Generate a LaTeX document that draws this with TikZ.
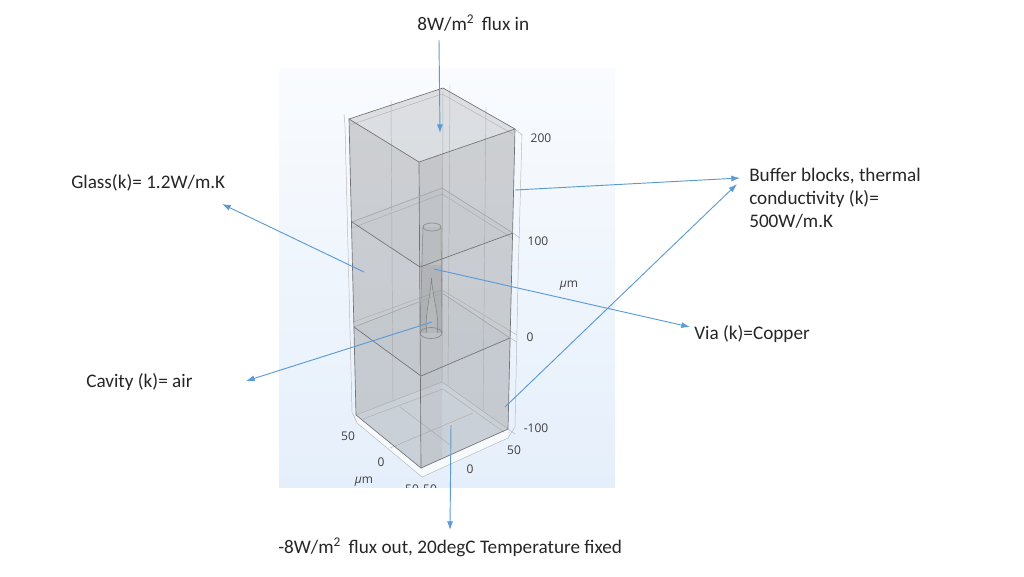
\documentclass[tikz,border=0pt]{standalone}
\usepackage{fontspec}
\setmainfont{Carlito}
\newfontfamily\axisfont{Open Sans}
\usetikzlibrary{arrows.meta}
\definecolor{leader}{HTML}{5B9BD5}
\definecolor{axistext}{HTML}{404040}
\definecolor{paneltop}{HTML}{F9FBFE}
\definecolor{panelbottom}{HTML}{E5EFFB}
\definecolor{wall}{HTML}{868686}
\tikzset{
    face/.style={fill=wall, fill opacity=0.2, draw=none},
    edge/.style={draw=black!55, line width=0.5pt},
    faint/.style={draw=black!28, line width=0.35pt},
    leaderline/.style={draw=leader, line width=0.7pt, -{Latex[length=6.5pt,width=4.5pt]}},
    note/.style={font=\fontsize{14.4}{17.2}\selectfont, text=black!85, inner sep=0pt},
    tick/.style={font=\axisfont\fontsize{9}{10}\selectfont, text=axistext, inner sep=0pt}
}
\begin{document}
\begin{tikzpicture}[x=0.75pt,y=-0.75pt]
    \useasboundingbox (0,0) rectangle (1024,576);
    \shade[top color=paneltop, bottom color=panelbottom] (279,68) rectangle (615,487);

    % axis frame
    \fill[white, opacity=0.7] (357,423) -- (422,477) -- (508,438) -- (508,429) -- (421,468) -- (356,415) -- cycle;
    \draw[faint] (344,114) -- (345,125) -- (352,412) -- (357,423) -- (422,477) -- (508,438);
    \draw[faint] (522,133) -- (518,280) -- (515,427) -- (508,438);
    \draw[faint] (515,129) -- (522,135);
    \draw[faint] (513,233) -- (520,238);
    \draw[faint] (510,338) -- (517,342);
    \draw[faint] (508,429) -- (515,434);

    % back walls and floor
    \path[face] (349,119) -- (443,88) -- (442,382) -- (356,415) -- cycle;
    \path[face] (443,88) -- (515,129) -- (508,429) -- (442,382) -- cycle;
    \path[face, fill opacity=0.12] (356,415) -- (442,382) -- (508,429) -- (421,468) -- cycle;
    \draw[faint] (391,100) -- (393,402);
    \draw[faint] (450,84) -- (448,386);
    \draw[faint] (486,107) -- (483,411);
    \draw[faint] (443,88) -- (442,382);
    \draw[faint] (350,125) -- (442,94) -- (513,134);
    \draw[faint] (352,228) -- (442,194) -- (512,238);
    \draw[faint] (353,322) -- (442,290) -- (517,335);
    \draw[faint] (356,415) -- (442,382) -- (508,429);
    \draw[faint] (363,419) -- (443,389) -- (504,432);
    \draw[faint] (400,407) -- (450,445);
    \draw[faint] (390,448) -- (473,413);

    % via
    \fill[black, opacity=0.03] (423,227) -- (441,227) -- (442,333) -- (420,333) -- cycle;
    \fill[black, opacity=0.08] (421,265) -- (442,265) -- (442,333) -- (421,333) -- cycle;
    \fill[white, opacity=0.2] (427,333) .. controls (424,318) and (430,300) .. (431.5,278) .. controls (433,300) and (440,318) .. (437,333) -- cycle;
    \draw[black!50, line width=0.4pt] (427,333) .. controls (424,318) and (430,300) .. (431.5,278) .. controls (433,300) and (440,318) .. (437,333);
    \draw[black!45, line width=0.4pt] (423,227) -- (420,333);
    \draw[black!45, line width=0.4pt] (441,227) -- (442,333);
    \draw[black!45, line width=0.5pt] (432,227) ellipse (9 and 4);
    \draw[black!45, line width=0.5pt] (431,333) ellipse (11 and 5.5);

    % front of the block
    \path[face] (349,119) -- (419,162) -- (421,468) -- (356,415) -- cycle;
    \path[face] (419,162) -- (515,129) -- (508,429) -- (421,468) -- cycle;
    \path[face, fill opacity=0.1] (419,162) -- (443,153) -- (442,458) -- (421,468) -- cycle;
    \path[face, fill opacity=0.04] (349,119) -- (443,88) -- (515,129) -- (419,162) -- cycle;
    \path[face, fill opacity=0.04] (352,222) -- (442,188) -- (513,233) -- (420,267) -- cycle;
    \path[face, fill opacity=0.03] (354,327) -- (442,293) -- (510,338) -- (421,376) -- cycle;

    \draw[edge] (349,119) -- (443,88) -- (515,129) -- (419,162) -- cycle;
    \draw[edge] (349,119) -- (356,415) -- (421,468) -- (508,429) -- (515,129);
    \draw[edge] (419,162) -- (421,468);
    \draw[edge, draw=black!35] (352,222) -- (442,188) -- (513,233);
    \draw[edge] (352,222) -- (420,267) -- (513,233);
    \draw[edge, draw=black!35] (354,327) -- (442,293) -- (510,338);
    \draw[edge] (354,327) -- (421,376) -- (510,338);

    % axis numbers
    \begin{scope}
        \clip (279,68) rectangle (615,487);
        \node[tick] (z200) at (541,138) {200};
        \node[tick] (z100) at (538,241) {100};
        \node[tick] (zunit) at (569,286) {\textit{μ}m};
        \node[tick] (z0) at (530,337) {0};
        \node[tick] (zm100) at (536,428) {-100};
        \node[tick] (y50) at (348,436) {50};
        \node[tick] (y0) at (381,462) {0};
        \node[tick] (yunit) at (364,482) {\textit{μ}m};
        \node[tick] (ym50) at (412,489) {50};
        \node[tick] (xm50) at (430,489) {50};
        \node[tick] (x0) at (470,469) {0};
        \node[tick] (x50) at (514,450) {50};
    \end{scope}

    % labels
    \node[note, anchor=west] (fluxIn) at (417,23) {8W/m\textsuperscript{2} \,flux in};
    \node[note, anchor=west] (glass) at (71,183) {Glass(k)= 1.2W/m.K};
    \node[note, anchor=north west, align=left] (buffer) at (749,168) {Buffer blocks, thermal\\conductivity (k)=\\500W/m.K};
    \node[note, anchor=west] (via) at (694,334) {Via (k)=Copper};
    \node[note, anchor=west] (cavity) at (86,382) {Cavity (k)= air};
    \node[note, anchor=west] (fluxOut) at (278,547) {-8W/m\textsuperscript{2} \,flux out, 20degC Temperature fixed};

    \coordinate (fluxInA) at (439,40);
    \coordinate (fluxInB) at (440,133);
    \coordinate (fluxOutA) at (451,425);
    \coordinate (fluxOutB) at (450,530);
    \coordinate (glassA) at (364,272);
    \coordinate (glassB) at (222,204);
    \coordinate (bufferA) at (515,190);
    \coordinate (bufferB) at (740,178);
    \coordinate (bufferC) at (505,407);
    \coordinate (bufferD) at (737,184);
    \coordinate (viaA) at (434,269);
    \coordinate (viaB) at (690,327);
    \coordinate (cavityA) at (432,322);
    \coordinate (cavityB) at (246,381);

    \draw[leaderline] (fluxInA) -- (fluxInB);
    \draw[leaderline] (fluxOutA) -- (fluxOutB);
    \draw[leaderline] (glassA) -- (glassB);
    \draw[leaderline] (bufferA) -- (bufferB);
    \draw[leaderline] (bufferC) -- (bufferD);
    \draw[leaderline] (viaA) -- (viaB);
    \draw[leaderline] (cavityA) -- (cavityB);
\end{tikzpicture}
\end{document}
